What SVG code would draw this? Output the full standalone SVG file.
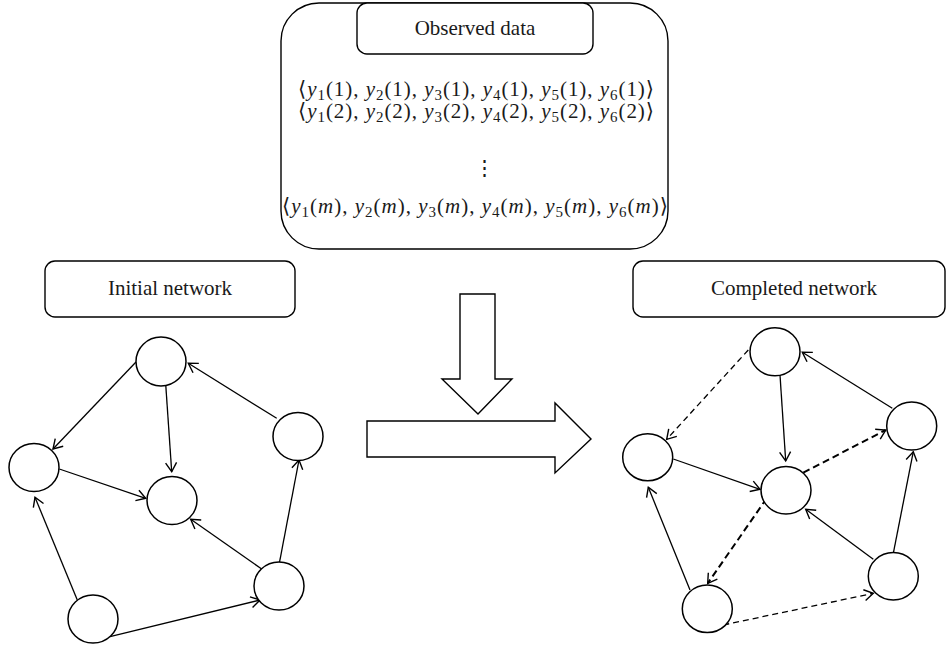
<svg xmlns="http://www.w3.org/2000/svg" width="947" height="646" viewBox="0 0 947 646">
<style>
.box{fill:#fff;stroke:#000;stroke-width:1.4}
.node{fill:#fff;stroke:#000;stroke-width:1.5}
.lbl{font-family:"Liberation Serif","Times New Roman",serif;font-size:21px;fill:#1a1a1a;text-anchor:middle}
.math{font-family:"Liberation Serif","DejaVu Serif",serif;font-size:21px;fill:#1a1a1a}
.i{font-style:italic}
.sub{font-size:15px}
.e{fill:none;stroke:#000;stroke-width:1.3;marker-end:url(#ah)}
.d{stroke-dasharray:6,4}
.dt{stroke-width:2;stroke-dasharray:7,4}
.big{fill:#fff;stroke:#000;stroke-width:1.4;stroke-linejoin:miter}
</style>
<defs>
<marker id="ah" markerUnits="userSpaceOnUse" markerWidth="14" markerHeight="14" viewBox="0 0 14 14" refX="11" refY="7" orient="auto">
<path d="M2,1.5 L11,7 L2,12.5" fill="none" stroke="#000" stroke-width="1.4"/>
</marker>
</defs>

<g id="observed">
<rect class="box" x="281" y="3" width="387" height="246" rx="38" ry="38"/>
<rect class="box" x="357" y="3" width="236" height="51" rx="10" ry="10"/>
<text class="lbl" x="475" y="35">Observed data</text>
<text class="math" x="298" y="96" textLength="356" lengthAdjust="spacing">⟨<tspan class="i">y</tspan><tspan class="sub" dy="4">1</tspan><tspan dy="-4">(1), </tspan><tspan class="i">y</tspan><tspan class="sub" dy="4">2</tspan><tspan dy="-4">(1), </tspan><tspan class="i">y</tspan><tspan class="sub" dy="4">3</tspan><tspan dy="-4">(1), </tspan><tspan class="i">y</tspan><tspan class="sub" dy="4">4</tspan><tspan dy="-4">(1), </tspan><tspan class="i">y</tspan><tspan class="sub" dy="4">5</tspan><tspan dy="-4">(1), </tspan><tspan class="i">y</tspan><tspan class="sub" dy="4">6</tspan><tspan dy="-4">(1)⟩</tspan></text>
<text class="math" x="298" y="118" textLength="356" lengthAdjust="spacing">⟨<tspan class="i">y</tspan><tspan class="sub" dy="4">1</tspan><tspan dy="-4">(2), </tspan><tspan class="i">y</tspan><tspan class="sub" dy="4">2</tspan><tspan dy="-4">(2), </tspan><tspan class="i">y</tspan><tspan class="sub" dy="4">3</tspan><tspan dy="-4">(2), </tspan><tspan class="i">y</tspan><tspan class="sub" dy="4">4</tspan><tspan dy="-4">(2), </tspan><tspan class="i">y</tspan><tspan class="sub" dy="4">5</tspan><tspan dy="-4">(2), </tspan><tspan class="i">y</tspan><tspan class="sub" dy="4">6</tspan><tspan dy="-4">(2)⟩</tspan></text>
<text class="math" x="484" y="175" font-size="36" text-anchor="middle">⋮</text>
<text class="math" x="282" y="213" textLength="386" lengthAdjust="spacing">⟨<tspan class="i">y</tspan><tspan class="sub" dy="4">1</tspan><tspan dy="-4">(</tspan><tspan class="i">m</tspan>), <tspan class="i">y</tspan><tspan class="sub" dy="4">2</tspan><tspan dy="-4">(</tspan><tspan class="i">m</tspan>), <tspan class="i">y</tspan><tspan class="sub" dy="4">3</tspan><tspan dy="-4">(</tspan><tspan class="i">m</tspan>), <tspan class="i">y</tspan><tspan class="sub" dy="4">4</tspan><tspan dy="-4">(</tspan><tspan class="i">m</tspan>), <tspan class="i">y</tspan><tspan class="sub" dy="4">5</tspan><tspan dy="-4">(</tspan><tspan class="i">m</tspan>), <tspan class="i">y</tspan><tspan class="sub" dy="4">6</tspan><tspan dy="-4">(</tspan><tspan class="i">m</tspan>)⟩</text>
</g>

<g id="initial-label">
<rect class="box" x="45" y="261" width="250" height="56" rx="10" ry="10"/>
<text class="lbl" x="170" y="295">Initial network</text>
</g>
<g id="completed-label">
<rect class="box" x="633" y="261" width="312" height="56" rx="10" ry="10"/>
<text class="lbl" x="794" y="295">Completed network</text>
</g>

<g id="down-arrow">
<path class="big" d="M460,294 L495,294 L495,379 L512,379 L478,414 L442,379 L460,379 Z"/>
</g>
<g id="right-arrow">
<path class="big" d="M367,421 L555,421 L555,403 L591,439 L555,473 L555,457 L367,457 Z"/>
</g>

<g id="connectors">
<line class="e" x1="136" y1="362" x2="53" y2="449"/>
<line class="e" x1="165.7" y1="384.3" x2="171.7" y2="471.7"/>
<line class="e" x1="59.3" y1="469" x2="145.7" y2="498.3"/>
<line class="e" x1="276.7" y1="418.3" x2="188.3" y2="363.3"/>
<line class="e" x1="261.7" y1="569" x2="190.7" y2="519.3"/>
<line class="e" x1="279.3" y1="563.3" x2="299" y2="460"/>
<line class="e" x1="77.3" y1="600" x2="35" y2="497.3"/>
<line class="e" x1="110" y1="636.7" x2="260" y2="600"/>

<line class="e d" x1="748.3" y1="350" x2="666.7" y2="439.3"/>
<line class="e" x1="780" y1="375" x2="785.7" y2="461"/>
<line class="e" x1="673.3" y1="459" x2="760" y2="489.3"/>
<line class="e" x1="892.3" y1="408.3" x2="802.3" y2="352.3"/>
<line class="e dt" x1="803.3" y1="472.7" x2="885.7" y2="430"/>
<line class="e dt" x1="766.7" y1="498.3" x2="707.7" y2="583.3"/>
<line class="e" x1="873.3" y1="559.3" x2="805.7" y2="509.3"/>
<line class="e" x1="893.3" y1="553.3" x2="913.3" y2="451.7"/>
<line class="e" x1="690" y1="590" x2="648.3" y2="487.3"/>
<line class="e d" x1="723.3" y1="625" x2="873.3" y2="593.3"/>
</g>

<g id="L-top"><ellipse class="node" cx="161" cy="361.5" rx="25" ry="24.5"/></g>
<g id="L-left"><ellipse class="node" cx="34" cy="467.5" rx="25" ry="24"/></g>
<g id="L-center"><ellipse class="node" cx="172" cy="500.5" rx="25" ry="24"/></g>
<g id="L-right"><ellipse class="node" cx="298" cy="436.5" rx="25" ry="24"/></g>
<g id="L-bottomright"><ellipse class="node" cx="279" cy="586" rx="25" ry="24"/></g>
<g id="L-bottom"><ellipse class="node" cx="93" cy="619" rx="25" ry="24"/></g>

<g id="R-top"><ellipse class="node" cx="775" cy="351.7" rx="25" ry="24"/></g>
<g id="R-left"><ellipse class="node" cx="647.7" cy="457.3" rx="25" ry="23.5"/></g>
<g id="R-center"><ellipse class="node" cx="786" cy="490.3" rx="25" ry="23.7"/></g>
<g id="R-right"><ellipse class="node" cx="911.7" cy="426" rx="25" ry="24"/></g>
<g id="R-bottomright"><ellipse class="node" cx="893.3" cy="576.3" rx="25" ry="23.7"/></g>
<g id="R-bottom"><ellipse class="node" cx="707.3" cy="608.8" rx="25" ry="23.8"/></g>
</svg>
